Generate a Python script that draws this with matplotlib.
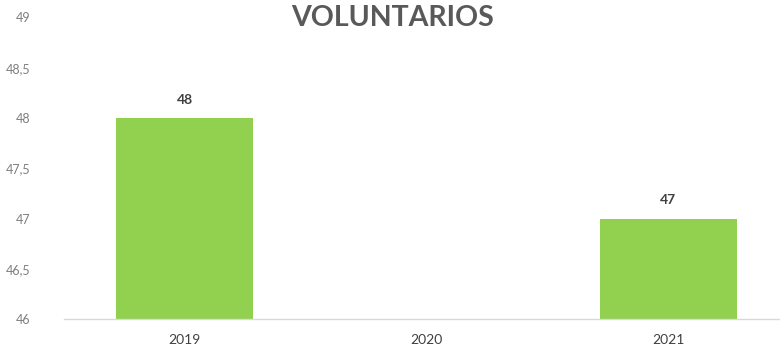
import matplotlib
matplotlib.use("Agg")
import matplotlib.pyplot as plt

categories = ["2019", "2020", "2021"]
values = [48, None, 47]
yticks = [46, 46.5, 47, 47.5, 48, 48.5, 49]
ytick_labels = ["46", "46,5", "47", "47,5", "48", "48,5", "49"]
title = "VOLUNTARIOS"

plt.rcParams['font.family'] = ['Lato', 'DejaVu Sans']

fig = plt.figure(figsize=(7.8, 3.51), dpi=100)
ax = fig.add_axes([64/780, 1-319/351, 725/780, (319-17.5)/351])

xs = list(range(len(categories)))
for x, v in zip(xs, values):
    if v is None:
        continue
    ax.bar(x, v - 46, bottom=46, width=0.568, color="#92D050", zorder=2)
    ax.text(x, v + 0.12, f"{v}", ha="center", va="bottom", fontsize=10,
            fontweight="bold", color="#404040")

ax.set_xlim(-0.5, 2.5)
ax.set_ylim(46, 49)
ax.set_xticks(xs)
ax.set_xticklabels(categories, fontsize=10, color="#404040")
ax.set_yticks(yticks)
ax.set_yticklabels(ytick_labels, fontsize=9, color="#7f7f7f")
ax.tick_params(axis="both", length=0)
ax.tick_params(axis="y", pad=24)
ax.tick_params(axis="x", pad=11)
for s in ["top", "right", "left"]:
    ax.spines[s].set_visible(False)
ax.spines["bottom"].set_color("#d9d9d9")
ax.spines["bottom"].set_linewidth(1)

fig.text(393/780, 1-18/351, title, ha="center", va="center", fontsize=20.5,
         fontweight="bold", color="#595959")

fig.savefig("out.png", dpi=100)
